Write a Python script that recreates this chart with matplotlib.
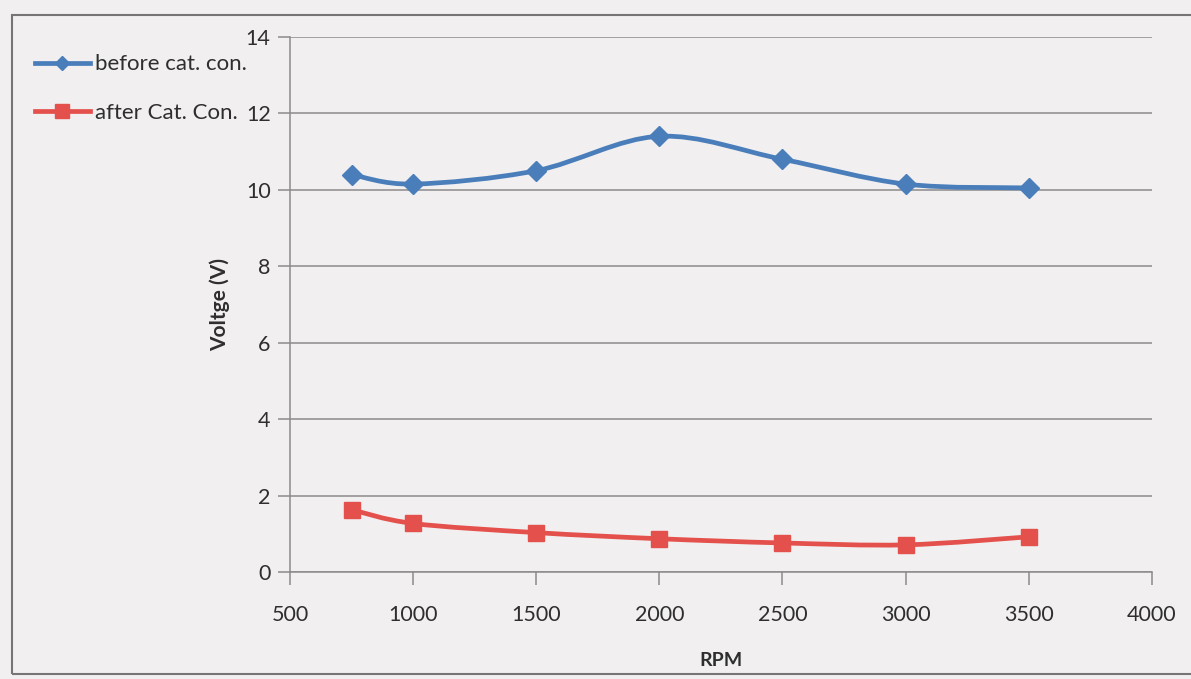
"""Voltage before / after catalytic converter vs RPM."""

import matplotlib

matplotlib.use("Agg")
import numpy as np  # noqa: E402
from matplotlib import pyplot as plt  # noqa: E402
from matplotlib.lines import Line2D  # noqa: E402
from matplotlib.patches import PathPatch, Rectangle  # noqa: E402
from matplotlib.path import Path  # noqa: E402

rpm = [750, 1000, 1500, 2000, 2500, 3000, 3500]
before_cat = [10.4, 10.15, 10.5, 11.4, 10.8, 10.15, 10.05]
after_cat = [1.63, 1.27, 1.03, 0.87, 0.76, 0.71, 0.92]
series_labels = ["before cat. con.", "after Cat. Con."]
x_ticks = [500, 1000, 1500, 2000, 2500, 3000, 3500, 4000]
y_ticks = [0, 2, 4, 6, 8, 10, 12, 14]

BLUE = "#4a7ebb"
RED = "#e4504c"
PAPER = "#f1efef"
GRID = "#8c8a8a"
TEXT = "#2e2e2e"

plt.rcParams["font.family"] = ["Lato", "DejaVu Sans"]


def smooth_path(xs, ys):
    """Excel-like smoothed line: cubic bezier through the points."""
    pts = np.column_stack([xs, ys]).astype(float)
    verts = [pts[0]]
    codes = [Path.MOVETO]
    n = len(pts)
    for i in range(n - 1):
        p0 = pts[max(i - 1, 0)]
        p1 = pts[i]
        p2 = pts[i + 1]
        p3 = pts[min(i + 2, n - 1)]
        verts += [p1 + (p2 - p0) / 6, p2 - (p3 - p1) / 6, p2]
        codes += [Path.CURVE4] * 3
    return Path(verts, codes)


fig = plt.figure(figsize=(11.91, 6.79), dpi=100, facecolor=PAPER)
# chart frame of the scanned page (right edge runs off the scan)
fig.patches.append(
    Rectangle((0.010, 0.008), 1.05, 0.97, transform=fig.transFigure,
              fill=False, edgecolor="#767474", linewidth=1.5)
)
ax = fig.add_axes([0.2435, 0.1576, 0.7235, 0.788])
ax.set_facecolor(PAPER)

for values, color, marker, size in (
    (before_cat, BLUE, "D", 10),
    (after_cat, RED, "s", 12),
):
    ax.add_patch(PathPatch(smooth_path(rpm, values), facecolor="none",
                           edgecolor=color, linewidth=3.4, zorder=3))
    ax.plot(rpm, values, linestyle="none", marker=marker, markersize=size,
            color=color, zorder=4)

ax.set_xlim(500, 4000)
ax.set_ylim(0, 14)
ax.set_xticks(x_ticks)
ax.set_yticks(y_ticks)
ax.grid(axis="y", color=GRID, linewidth=1.1)
ax.set_axisbelow(True)
for side in ("top", "right"):
    ax.spines[side].set_visible(False)
for side in ("left", "bottom"):
    ax.spines[side].set_color(GRID)
    ax.spines[side].set_linewidth(1.1)
ax.tick_params(axis="both", direction="out", length=9, color=GRID,
               labelsize=15.5, labelcolor=TEXT, width=1.1)
ax.tick_params(axis="x", pad=15)
ax.tick_params(axis="y", pad=5)
ax.set_xlabel("RPM", fontsize=14, fontweight="bold", color=TEXT, labelpad=19)
ax.set_ylabel("Voltge (V)", fontsize=15, fontweight="bold", color=TEXT, labelpad=11)

handles = [
    Line2D([], [], color=BLUE, linewidth=3.4, marker="D", markersize=7),
    Line2D([], [], color=RED, linewidth=3.4, marker="s", markersize=10),
]
fig.legend(handles, series_labels, loc="upper left", bbox_to_anchor=(0.029, 0.92),
           frameon=False, fontsize=16, handlelength=2.5, handletextpad=0.2,
           labelspacing=1.3, borderpad=0, borderaxespad=0, labelcolor=TEXT)

fig.savefig("out.png", dpi=100, facecolor=PAPER)
